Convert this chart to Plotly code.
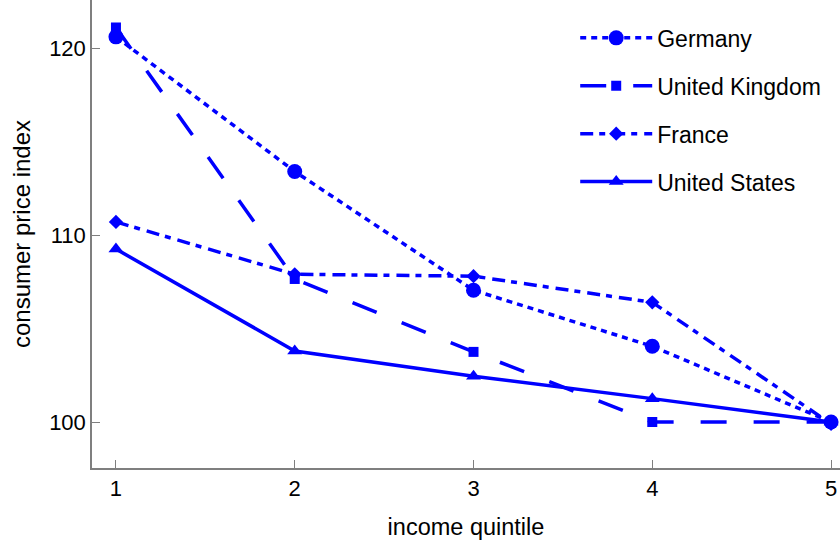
import plotly.graph_objects as go

# Consumer price index by income quintile (quintile 5 = 100)
quintiles = [1, 2, 3, 4, 5]
germany = [120.6, 113.4, 107.05, 104.05, 100.0]
united_kingdom = [121.1, 107.65, 103.75, 100.0, 100.0]
france = [110.7, 107.9, 107.8, 106.4, 99.9]
united_states = [109.25, 103.8, 102.45, 101.25, 100.0]

series = [
    ("Germany", germany, "circle", 15, "6px,5px"),
    ("United Kingdom", united_kingdom, "square", 10, "26px,27px"),
    ("France", france, "diamond", 11, "13px,6px,6px,7px"),
    ("United States", united_states, "triangle-up", 13, "solid"),
]

BLUE = "#0000ff"
AXIS_GREY = "#7f7f7f"
FONT = "Liberation Sans, Arial, sans-serif"

fig = go.Figure()
for name, values, symbol, size, dash in series:
    fig.add_trace(go.Scatter(
        x=quintiles, y=values, name=name, legendgroup=name,
        mode="lines+markers",
        line=dict(color=BLUE, width=3.5, dash=dash),
        marker=dict(color=BLUE, symbol=symbol, size=size),
    ))

fig.update_layout(
    width=840, height=544,
    margin=dict(l=92, r=0, t=0, b=76),
    paper_bgcolor="white", plot_bgcolor="white",
    font=dict(family=FONT, size=22, color="black"),
    showlegend=True,
    legend=dict(
        x=0.646, y=0.965, xanchor="left", yanchor="top",
        font=dict(size=23), tracegroupgap=15, itemwidth=72,
        bgcolor="rgba(0,0,0,0)",
    ),
    xaxis=dict(
        range=[0.866, 5.05], tickvals=quintiles,
        showline=True, linecolor=AXIS_GREY, linewidth=1.5,
        ticks="inside", ticklen=8, tickcolor=AXIS_GREY, tickwidth=1,
        showgrid=False, zeroline=False,
        title=dict(text="income quintile", font=dict(size=23.5), standoff=18),
    ),
    yaxis=dict(
        range=[97.54, 122.57], tickvals=[100, 110, 120],
        showline=True, linecolor=AXIS_GREY, linewidth=1.5,
        ticks="inside", ticklen=8, tickcolor=AXIS_GREY, tickwidth=1,
        showgrid=False, zeroline=False,
        title=dict(text="consumer price index", font=dict(size=24), standoff=12),
    ),
)

fig.write_html("out.html")
